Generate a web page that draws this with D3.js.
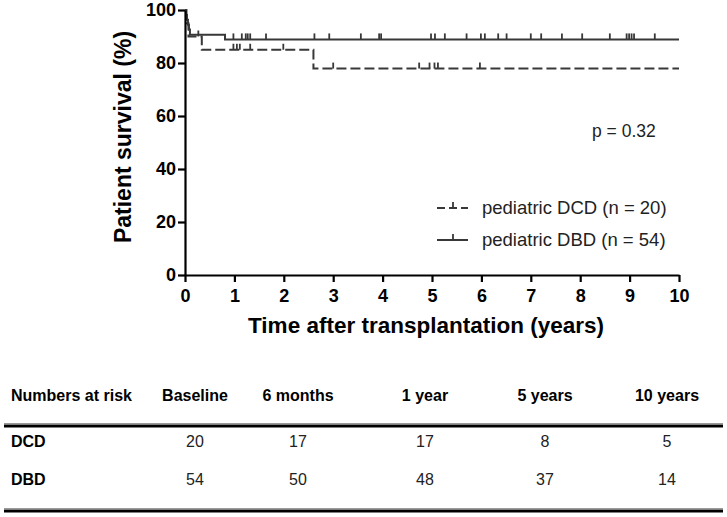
<!DOCTYPE html>
<html>
<head>
<meta charset="utf-8">
<script src="https://cdn.jsdelivr.net/npm/d3@7"></script>
<style>
  body { margin: 0; background: #fff; }
  svg { display: block; font-family: "Liberation Sans", Arial, sans-serif; }
</style>
</head>
<body>
<div id="chart"></div>
<script>
// Kaplan-Meier step points (time in years, survival in %)
const dcdTimes = [0, 0.03, 0.07, 0.34, 2.6, 10];
const dcdSurv = [100, 95, 90, 85, 77.9, 77.9];
const dcdCensored = [0.27, 0.98, 1.05, 1.11, 1.32, 1.99, 3.0, 4.74, 4.95, 5.05, 5.12, 5.97];

const dbdTimes = [0, 0.02, 0.04, 0.06, 0.08, 0.1, 0.81, 10];
const dbdSurv = [100, 98.1, 96.3, 94.4, 92.6, 90.7, 88.9, 88.9];
const dbdCensored = [0.98, 1.15, 1.23, 1.27, 1.32, 1.64, 2.62, 2.92, 3.56, 3.93, 3.97,
  4.98, 5.06, 5.26, 5.7, 5.99, 6.07, 6.34, 6.51, 7.0, 7.21, 7.63, 8.04, 8.6,
  8.94, 8.99, 9.04, 9.09, 9.51];

const xTicks = [0, 1, 2, 3, 4, 5, 6, 7, 8, 9, 10];
const yTicks = [0, 20, 40, 60, 80, 100];

const legendLabels = ["pediatric DCD (n = 20)", "pediatric DBD (n = 54)"];
const pValue = "p = 0.32";

const riskHeaders = ["Baseline", "6 months", "1 year", "5 years", "10 years"];
const riskGroups = ["DCD", "DBD"];
const riskDCD = [20, 17, 17, 8, 5];
const riskDBD = [54, 50, 48, 37, 14];

const width = 727;
const height = 517;
const lineColor = "#383838";

const svg = d3.select("#chart")
  .append("svg")
  .attr("width", width)
  .attr("height", height);

const x = d3.scaleLinear().domain([0, 10]).range([185, 679]);
const y = d3.scaleLinear().domain([0, 100]).range([275, 10]);

// step value at time t
function survAt(times, surv, t) {
  let v = surv[0];
  for (let i = 0; i < times.length; i++) if (times[i] <= t) v = surv[i];
  return v;
}

const line = d3.line()
  .x(d => x(d[0]))
  .y(d => y(d[1]))
  .curve(d3.curveStepAfter);

function drawCurve(times, surv, censored, dash) {
  const pts = times.map((t, i) => [t, surv[i]]);
  svg.append("path")
    .attr("d", line(pts))
    .attr("fill", "none")
    .attr("stroke", lineColor)
    .attr("stroke-width", 2)
    .attr("stroke-dasharray", dash);
  svg.append("g")
    .selectAll("line")
    .data(censored)
    .join("line")
    .attr("x1", d => x(d))
    .attr("x2", d => x(d))
    .attr("y1", d => y(survAt(times, surv, d)))
    .attr("y2", d => y(survAt(times, surv, d)) - 6)
    .attr("stroke", lineColor)
    .attr("stroke-width", 1.8);
}

drawCurve(dcdTimes, dcdSurv, dcdCensored, "10,4");
drawCurve(dbdTimes, dbdSurv, dbdCensored, null);

// axes
const yAxis = svg.append("g")
  .attr("transform", `translate(${x(0)},0)`)
  .call(d3.axisLeft(y).tickValues(yTicks).tickSize(7).tickSizeOuter(0).tickPadding(2));

const xAxis = svg.append("g")
  .attr("transform", `translate(0,${y(0)})`)
  .call(d3.axisBottom(x).tickValues(xTicks).tickSize(7).tickSizeOuter(0).tickPadding(7));

[xAxis, yAxis].forEach(g => {
  g.select(".domain").attr("stroke", "#000").attr("stroke-width", 2.2);
  g.selectAll(".tick line").attr("stroke", "#000").attr("stroke-width", 2.2);
  g.selectAll(".tick text")
    .attr("fill", "#000")
    .attr("font-size", 18)
    .attr("font-weight", "bold")
    .attr("font-family", "Liberation Sans, Arial, sans-serif");
});

svg.append("text")
  .attr("transform", `translate(131,137) rotate(-90)`)
  .attr("text-anchor", "middle")
  .attr("font-size", 23)
  .attr("font-weight", "bold")
  .text("Patient survival (%)");

svg.append("text")
  .attr("x", 426)
  .attr("y", 333)
  .attr("text-anchor", "middle")
  .attr("font-size", 22.5)
  .attr("font-weight", "bold")
  .text("Time after transplantation (years)");

svg.append("text")
  .attr("x", 592)
  .attr("y", 137)
  .attr("font-size", 17.5)
  .attr("fill", "#222")
  .text(pValue);

// legend
const legendY = [208, 240];
legendLabels.forEach((lab, i) => {
  const g = svg.append("g").attr("transform", `translate(437,${legendY[i]})`);
  g.append("line")
    .attr("x1", 0).attr("x2", 31).attr("y1", 0).attr("y2", 0)
    .attr("stroke", lineColor).attr("stroke-width", 2)
    .attr("stroke-dasharray", i === 0 ? "8,4" : null);
  g.append("line")
    .attr("x1", 16).attr("x2", 16).attr("y1", 0).attr("y2", -6)
    .attr("stroke", lineColor).attr("stroke-width", 1.8);
  g.append("text")
    .attr("x", 45)
    .attr("y", 6)
    .attr("font-size", 18.5)
    .attr("fill", "#222")
    .text(lab);
});

// numbers at risk table
const colX = [195, 298, 425, 545, 667];

svg.append("text")
  .attr("x", 11).attr("y", 401)
  .attr("font-size", 16).attr("font-weight", "bold")
  .text("Numbers at risk");

svg.append("g")
  .selectAll("text")
  .data(riskHeaders)
  .join("text")
  .attr("x", (d, i) => colX[i])
  .attr("y", 401)
  .attr("text-anchor", "middle")
  .attr("font-size", 16)
  .attr("font-weight", "bold")
  .text(d => d);

function rule(yPos) {
  svg.append("line").attr("x1", 4).attr("x2", 723).attr("y1", yPos - 2.5).attr("y2", yPos - 2.5)
    .attr("stroke", "#999").attr("stroke-width", 1);
  svg.append("line").attr("x1", 4).attr("x2", 723).attr("y1", yPos).attr("y2", yPos)
    .attr("stroke", "#000").attr("stroke-width", 3);
}
rule(426);
rule(511);

const rowY = [447, 485];
[riskDCD, riskDBD].forEach((vals, r) => {
  svg.append("text")
    .attr("x", 11).attr("y", rowY[r])
    .attr("font-size", 16).attr("font-weight", "bold")
    .text(riskGroups[r]);
  svg.append("g")
    .selectAll("text")
    .data(vals)
    .join("text")
    .attr("x", (d, i) => colX[i])
    .attr("y", rowY[r])
    .attr("text-anchor", "middle")
    .attr("font-size", 16)
    .attr("fill", "#222")
    .text(d => d);
});
</script>
</body>
</html>
